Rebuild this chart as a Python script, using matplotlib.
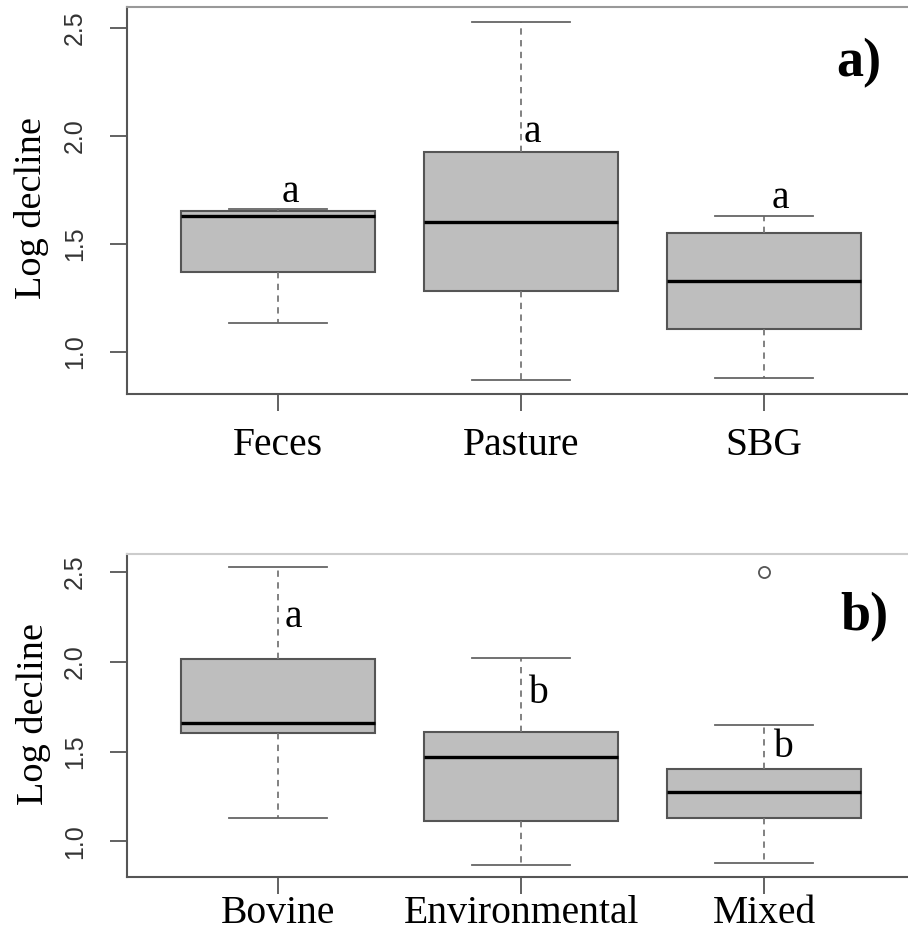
import matplotlib
matplotlib.use("Agg")
import matplotlib.pyplot as plt

# panel a) - sample type
groups_a = ["Feces", "Pasture", "SBG"]
q1_a = [1.370, 1.280, 1.106]
med_a = [1.628, 1.600, 1.330]
q3_a = [1.653, 1.928, 1.549]
whislo_a = [1.132, 0.869, 0.878]
whishi_a = [1.662, 2.529, 1.630]
fliers_a = [[], [], []]
letters_a = ["a", "a", "a"]

# panel b) - source
groups_b = ["Bovine", "Environmental", "Mixed"]
q1_b = [1.605, 1.113, 1.133]
med_b = [1.657, 1.469, 1.277]
q3_b = [2.018, 1.607, 1.403]
whislo_b = [1.131, 0.871, 0.880]
whishi_b = [2.530, 2.022, 1.648]
fliers_b = [[], [], [2.50]]
letters_b = ["a", "b", "b"]

serif = "Liberation Serif"
sans = "Liberation Sans"


def make_stats(labels, q1, med, q3, lo, hi, fl):
    out = []
    for i in range(len(labels)):
        out.append(dict(label=labels[i], q1=q1[i], med=med[i], q3=q3[i],
                        whislo=lo[i], whishi=hi[i], fliers=fl[i]))
    return out


def draw_panel(ax, stats, letters, letter_pos, tag, tag_pos, xpad):
    ax.bxp(stats, positions=[1, 2, 3], widths=0.8, capwidths=0.4,
           patch_artist=True, showfliers=True,
           boxprops=dict(facecolor="#bebebe", edgecolor="#555555", linewidth=1.5),
           medianprops=dict(color="black", linewidth=2.4),
           whiskerprops=dict(color="#777777", linewidth=1.3, linestyle=(0, (3.5, 3))),
           capprops=dict(color="#666666", linewidth=1.3),
           flierprops=dict(marker="o", markersize=8, markerfacecolor="none",
                           markeredgecolor="#555555", markeredgewidth=1.3))
    ax.set_xlim(0.38, 3.62)
    ax.set_ylim(0.804, 2.598)
    ax.set_yticks([1.0, 1.5, 2.0, 2.5])
    ax.set_yticklabels(["1.0", "1.5", "2.0", "2.5"], rotation=90, va="center",
                       fontfamily=sans, fontsize=18, color="#333333")
    ax.set_xticklabels([s["label"] for s in stats], fontfamily=serif, fontsize=28.5)
    ax.tick_params(axis="y", length=12, width=1.3, color="#555555", pad=17)
    ax.tick_params(axis="x", length=12, width=1.3, color="#555555", pad=xpad)
    for (x, y), t in zip(letter_pos, letters):
        ax.text(x, y, t, ha="center", va="center", fontfamily=serif, fontsize=28.5)
    ax.text(tag_pos[0], tag_pos[1], tag, transform=ax.transAxes, ha="center",
            va="center", fontfamily=serif, fontsize=39, fontweight="bold")
    ax.spines["left"].set_color("#555555")
    ax.spines["bottom"].set_color("#555555")
    for s in ["left", "bottom", "top", "right"]:
        ax.spines[s].set_linewidth(1.5)


fig = plt.figure(figsize=(9.08, 9.30), dpi=100)

ax1 = fig.add_axes([0.1402, 0.5763, 0.8672, 0.4162])
draw_panel(ax1, make_stats(groups_a, q1_a, med_a, q3_a, whislo_a, whishi_a, fliers_a),
           letters_a, [(1.05, 1.738), (2.045, 2.017), (3.066, 1.71)],
           "a)", (0.929, 0.855), 12)
ax1.spines["top"].set_color("#999999")

ax2 = fig.add_axes([0.1402, 0.0573, 0.8672, 0.3467])
draw_panel(ax2, make_stats(groups_b, q1_b, med_b, q3_b, whislo_b, whishi_b, fliers_b),
           letters_b, [(1.062, 2.247), (2.07, 1.823), (3.078, 1.522)],
           "b)", (0.936, 0.806), 1)
ax2.spines["top"].set_color("#cccccc")

fig.text(32 / 908, 1 - 208 / 930, "Log decline", rotation=90, ha="center",
         va="center", fontfamily=serif, fontsize=27.5)
fig.text(34 / 908, 1 - 714 / 930, "Log decline", rotation=90, ha="center",
         va="center", fontfamily=serif, fontsize=27.5)

fig.savefig("out.png", dpi=100)
